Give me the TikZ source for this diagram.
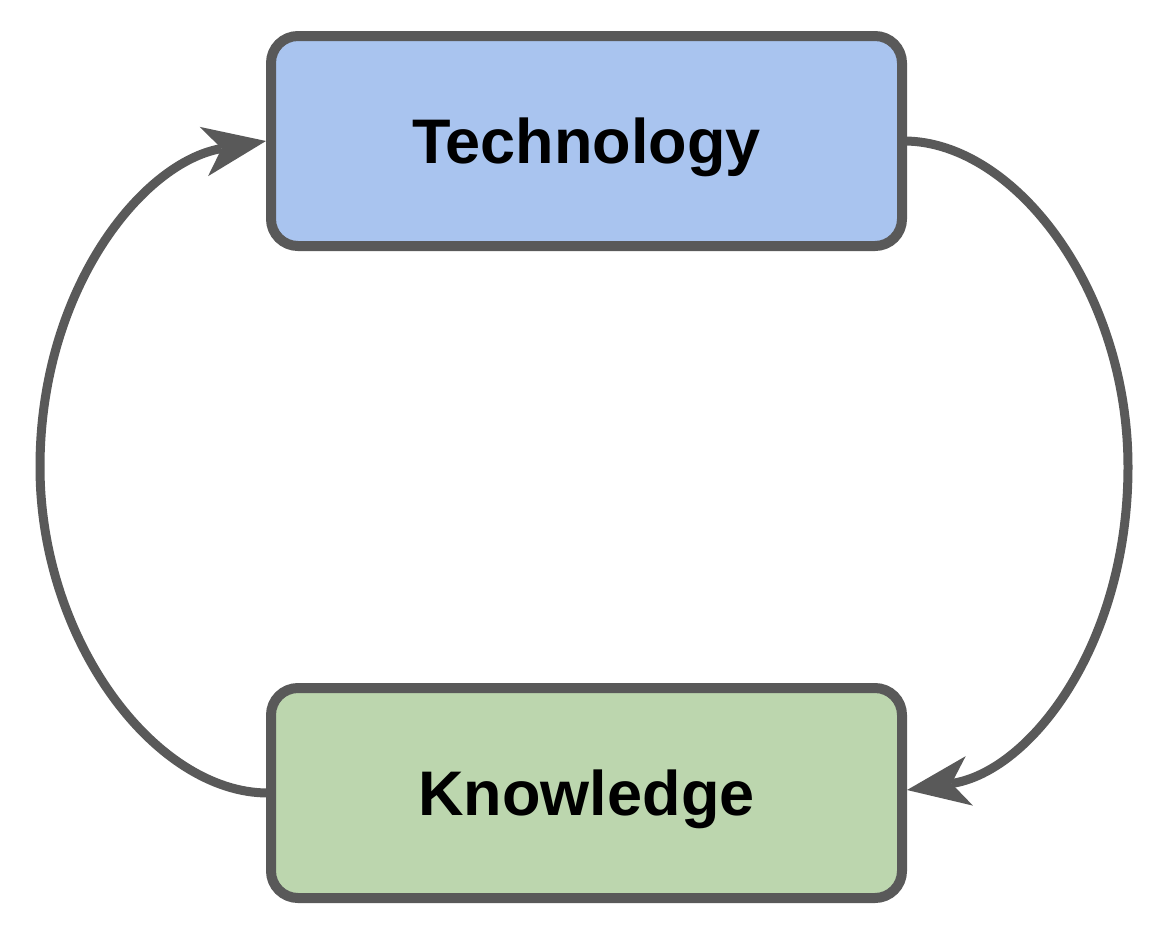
\documentclass[tikz,border=0pt]{standalone}
\usepackage{fontspec}
\setmainfont{Liberation Sans}
\usetikzlibrary{arrows.meta}
\definecolor{edgegray}{HTML}{595959}
\definecolor{techblue}{HTML}{A9C4EF}
\definecolor{knowgreen}{HTML}{BCD6AE}
\tikzset{
  box/.style={draw=edgegray, line width=10pt, rounded corners=27pt,
    minimum width=631pt, minimum height=210pt, text height=46pt, text depth=2pt,
    inner sep=0pt, font=\fontsize{63pt}{70pt}\selectfont\bfseries, text=black},
  conn/.style={draw=edgegray, line width=9pt,
    -{Stealth[length=63pt,width=50pt,inset=18pt,line width=0pt]}}
}
\begin{document}
\begin{tikzpicture}[x=1pt,y=-1pt]
\useasboundingbox (0,0) rectangle (1168,930);
\node[box, fill=techblue] (tech) at (586.5,141) {Technology};
\node[box, fill=knowgreen] (know) at (586.5,793) {Knowledge};
\coordinate (tr) at ([xshift=-2pt]tech.east);
\coordinate (kr) at ([yshift=3pt]know.east);
\coordinate (kl) at ([xshift=2pt]know.west);
\coordinate (tl) at (tech.west);
\coordinate (rmid) at (1128,467);
\coordinate (lmid) at (40,467);
\draw[conn] (tr) .. controls (1015,142) and (1128,290) .. (rmid)
  .. controls (1128,645) and (1030,772) .. (kr);
\draw[conn] (kl) .. controls (155,793) and (40,640) .. (lmid)
  .. controls (40,290) and (142,162) .. (tl);
\end{tikzpicture}
\end{document}
